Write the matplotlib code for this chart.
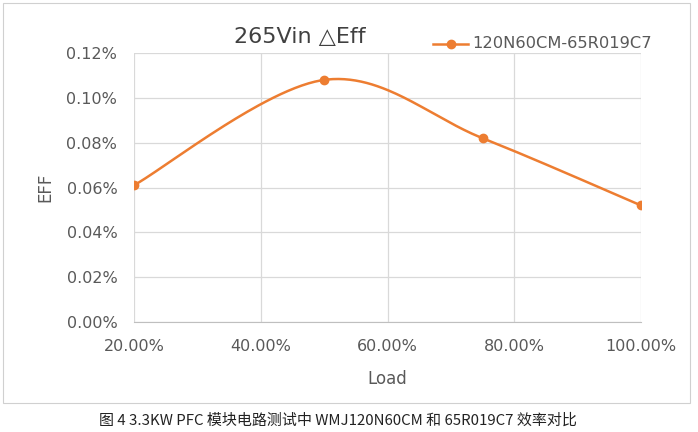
import numpy as np
import matplotlib
matplotlib.use("Agg")
import matplotlib.pyplot as plt
from matplotlib.patches import Rectangle
from matplotlib.ticker import FuncFormatter

plt.rcParams['font.family'] = ['DejaVu Sans', 'Noto Sans CJK SC']

# data
load = [0.20, 0.50, 0.75, 1.00]
delta_eff = [0.00061, 0.00108, 0.00082, 0.00052]
series_name = "120N60CM-65R019C7"
title = "265Vin \u25b3Eff"
caption = "图 4 3.3KW PFC 模块电路测试中 WMJ120N60CM 和 65R019C7 效率对比"
x_ticks = [0.2, 0.4, 0.6, 0.8, 1.0]
y_ticks = [0.0, 0.0002, 0.0004, 0.0006, 0.0008, 0.0010, 0.0012]

orange = "#ED7D31"
grey_txt = "#595959"


def smooth(xs, ys, n=60):
    # excel-like smoothing: cubic bezier with catmull-rom control points
    xs = np.asarray(xs, float)
    ys = np.asarray(ys, float)
    px, py = [], []
    for i in range(len(xs) - 1):
        x0, y0 = (xs[i - 1], ys[i - 1]) if i > 0 else (xs[i], ys[i])
        x3, y3 = (xs[i + 2], ys[i + 2]) if i + 2 < len(xs) else (xs[i + 1], ys[i + 1])
        x1, y1 = xs[i], ys[i]
        x2, y2 = xs[i + 1], ys[i + 1]
        c1 = (x1 + (x2 - x0) / 6, y1 + (y2 - y0) / 6)
        c2 = (x2 - (x3 - x1) / 6, y2 - (y3 - y1) / 6)
        t = np.linspace(0, 1, n)
        bx = (1-t)**3*x1 + 3*(1-t)**2*t*c1[0] + 3*(1-t)*t**2*c2[0] + t**3*x2
        by = (1-t)**3*y1 + 3*(1-t)**2*t*c1[1] + 3*(1-t)*t**2*c2[1] + t**3*y2
        px.extend(bx)
        py.extend(by)
    return np.array(px), np.array(py)


fig = plt.figure(figsize=(6.98, 4.32), dpi=100)
fig.patches.append(Rectangle((3/698, 1 - 403/432), 687/698, 400/432,
                             transform=fig.transFigure, fill=False,
                             edgecolor="#d0d0d0", linewidth=0.8))

ax = fig.add_axes([134/698, 1 - 322/432, 507/698, 269/432])
sx, sy = smooth(load, delta_eff)
ax.plot(sx, sy, color=orange, linewidth=1.8, zorder=3)
ax.plot(load, delta_eff, linestyle="none", marker="o", markersize=6,
        color=orange, zorder=4)

ax.set_xlim(0.2, 1.0)
ax.set_ylim(0, 0.0012)
ax.set_xticks(x_ticks)
ax.set_yticks(y_ticks)
ax.xaxis.set_major_formatter(FuncFormatter(lambda v, p: "%.2f%%" % (v * 100)))
ax.yaxis.set_major_formatter(FuncFormatter(lambda v, p: "%.2f%%" % (v * 100)))
ax.grid(True, color="#d9d9d9", linewidth=0.9)
ax.set_axisbelow(True)
for s in ax.spines.values():
    s.set_visible(False)
ax.spines['bottom'].set_visible(True)
ax.spines['bottom'].set_color("#bfbfbf")
ax.tick_params(length=0, labelsize=11.5, colors=grey_txt, pad=12)
ax.tick_params(axis='y', pad=12)

ax.set_xlabel("Load", fontsize=12, color=grey_txt, labelpad=11.5)
ax.set_ylabel("EFF", fontsize=12, color=grey_txt, labelpad=9)

fig.text(300/698, 1 - 37/432, title, fontsize=16, color="#404040",
         ha="center", va="center", family=['DejaVu Sans', 'Noto Sans CJK SC'])

# legend
ly = 1 - 44/432
fig.add_artist(plt.Line2D([433/698, 468/698], [ly, ly], color=orange,
                          linewidth=1.8, transform=fig.transFigure))
fig.add_artist(plt.Line2D([451/698], [ly], marker="o", markersize=6,
                          color=orange, transform=fig.transFigure))
fig.text(472/698, ly, series_name, fontsize=11.7, color=grey_txt,
         ha="left", va="center")

fig.text(338/698, 1 - 421/432, caption, fontsize=10.8, color="#222222",
         ha="center", va="center", family=['Noto Sans CJK SC', 'DejaVu Sans'])

fig.savefig("out.png", dpi=100)
